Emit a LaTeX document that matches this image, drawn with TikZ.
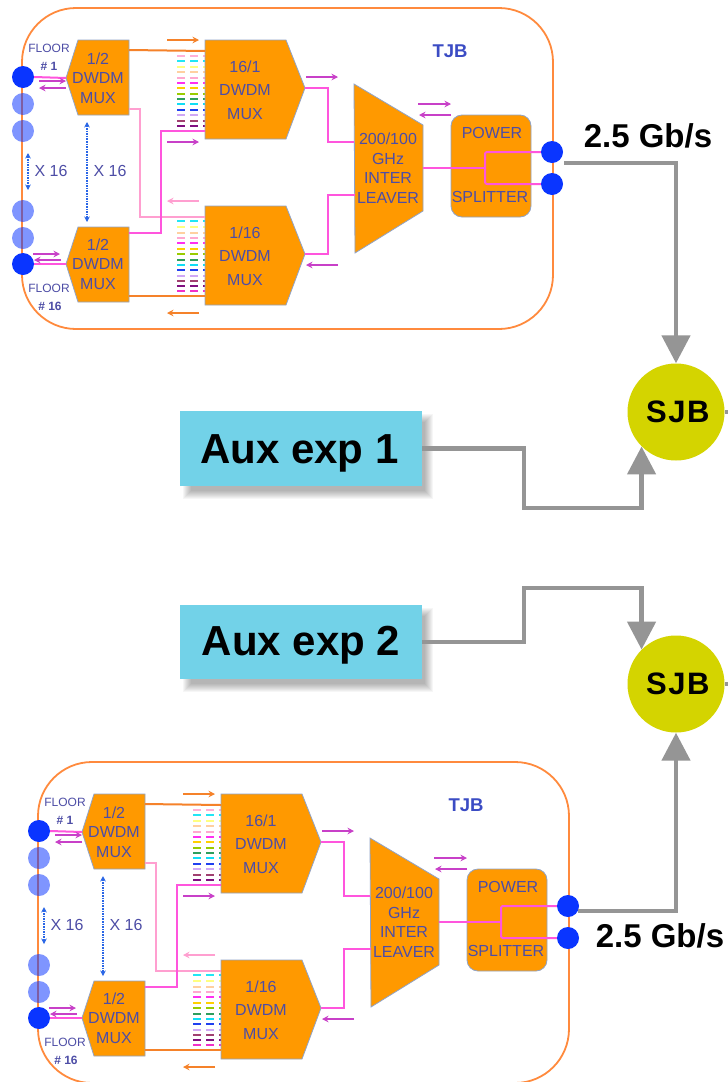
\documentclass[tikz,border=0pt]{standalone}
\usepackage{fontspec}
\setmainfont{Liberation Sans}
\usetikzlibrary{arrows.meta,calc}
\definecolor{muxor}{HTML}{FF9900}
\definecolor{muxedge}{HTML}{8FA3C8}
\definecolor{boxor}{HTML}{FF8A3D}
\definecolor{lbl}{HTML}{4D4DA6}
\definecolor{tjbblue}{HTML}{3B4CC4}
\definecolor{port}{HTML}{0A35FF}
\definecolor{wmag}{HTML}{FF55DD}
\definecolor{amag}{HTML}{C840C8}
\definecolor{wpink}{HTML}{FF9FD0}
\definecolor{wor}{HTML}{F5822A}
\definecolor{gline}{HTML}{959595}
\definecolor{sjbc}{HTML}{D4D400}
\definecolor{auxc}{HTML}{72D2E8}
\definecolor{xarrow}{HTML}{2A66E6}
\tikzset{
  x=1pt,y=-1pt,
  block/.style={fill=muxor,draw=muxedge,line width=.8pt,line join=miter},
  lbltext/.style={text=lbl,inner sep=0pt,align=center,font=\fontsize{16}{19.5}\selectfont},
  lbltall/.style={text=lbl,inner sep=0pt,align=center,font=\fontsize{16}{23.5}\selectfont},
  floortext/.style={text=lbl,inner sep=0pt,font=\fontsize{12}{14}\selectfont},
  bluedot/.style={circle,fill=port,minimum size=22pt,inner sep=0pt},
  fadedot/.style={circle,fill=port,fill opacity=.52,minimum size=22pt,inner sep=0pt},
  wire/.style={line width=2pt},
  tick/.style={line width=2pt,-{Stealth[length=6.5pt,width=6.5pt]}},
  xdash/.style={xarrow,line width=1.6pt,densely dotted,{Stealth[length=5.5pt,width=5.5pt]}-{Stealth[length=5.5pt,width=5.5pt]}},
  gwire/.style={gline,line width=4.7pt,line join=miter},
  garrow/.style={gwire,-{Triangle[length=28pt,width=28pt]}},
  auxbox/.style={fill=auxc,minimum width=242pt,inner sep=0pt},
  auxtext/.style={inner sep=0pt,anchor=base,text=black,font=\bfseries\fontsize{42}{42}\selectfont},
  sjbnode/.style={circle,fill=sjbc,minimum size=97pt,inner sep=0pt,text=black,font=\addfontfeature{LetterSpace=5}\bfseries\fontsize{31}{31}\selectfont},
  ratetext/.style={text=black,inner sep=0pt,anchor=base,font=\bfseries\fontsize{33}{33}\selectfont},
}
\newcommand{\dashrow}[2]{\foreach \cx in {181,194}{\fill[#1] (\cx-4,#2-1.2) rectangle (\cx+4,#2+1.2);}\fill[#1] (203,#2-1.2) rectangle (207,#2+1.2);}
\newcommand{\tjbmodule}{%
  % dash columns
  \foreach \yy/\cc in {56/FFB0D8,61/22E6F5,67/FFFF80,72/FFD0A0,78/FFA8D0,83/FF30F0,88/FFD000,94/99CC00,99/2E9E5E,104/10DDF5,110/2040F0,115/D0A8F5,121/A04070,126/801080}{\definecolor{dc}{HTML}{\cc}\dashrow{dc}{\yy}}
  \foreach \yy/\cc in {221/22E6F5,227/FFFF80,233/FFD0A0,238/FFA8D0,243/FF30F0,249/FFD000,254/99CC00,260/2E9E5E,265/10DDF5,270/2040F0,276/D0A8F5,281/A04070,286/801080,291/F030C8}{\definecolor{dc}{HTML}{\cc}\dashrow{dc}{\yy}}
  % outer box
  \draw[boxor,line width=1.8pt,rounded corners=54pt] (22,8) rectangle (553,329);
  % blocks
  \draw[block] (66,78) -- (78,40) -- (129,40) -- (129,115) -- (78,115) -- cycle;
  \draw[block] (66,264) -- (78,227) -- (129,227) -- (129,302) -- (78,302) -- cycle;
  \draw[block] (205,40) -- (286,40) -- (305,88) -- (286,139) -- (205,139) -- cycle;
  \draw[block] (205,206) -- (286,206) -- (305,254) -- (286,305) -- (205,305) -- cycle;
  \draw[block] (354,84) -- (423,125) -- (423,211) -- (355,253) -- cycle;
  \node[block,rounded corners=11pt,minimum width=80pt,minimum height=102pt,inner sep=0pt] (split) at (491,166) {};
  \coordinate (m1w) at (66,78); \coordinate (m2w) at (66,264);
  \coordinate (m1top) at (129,50); \coordinate (m1low) at (129,109);
  \coordinate (m2top) at (129,233); \coordinate (m2low) at (129,296);
  \coordinate (a1top) at (205,51); \coordinate (a1low) at (205,131);
  \coordinate (a2top) at (205,217); \coordinate (a2low) at (205,296);
  \coordinate (a1out) at (305,88); \coordinate (a2out) at (305,254);
  \coordinate (i1) at (354,142); \coordinate (i2) at (355,195); \coordinate (iout) at (423,168);
  \coordinate (sb) at (485,168);
  % ports
  \node[fadedot] (d2) at (23,104) {};
  \node[fadedot] (d3) at (23,131) {};
  \node[fadedot] (d4) at (23,211) {};
  \node[fadedot] (d5) at (23,238) {};
  \node[bluedot] (f1) at (23,77) {};
  \node[bluedot] (f16) at (23,264) {};
  \node[bluedot] (po1) at (552,152) {};
  \node[bluedot] (po2) at (552,184) {};
  % wires
  \draw[wire,wmag] (f1.east) -- (m1w);
  \draw[wire,wmag] (f16.east) -- (m2w);
  \draw[wire,wor] (m1top) -- (a1top);
  \draw[wire,wor] (m2low) -- (a2low);
  \draw[wire,wpink] (m1low) -| (140,217) -- (a2top);
  \draw[wire,wmag] (m2top) -| (161,131) -- (a1low);
  \draw[wire,wmag] (a1out) -| (328,142) -- (i1);
  \draw[wire,wmag] (a2out) -| (328,195) -- (i2);
  \draw[wire,wmag] (iout) -- (sb);
  \draw[wire,wmag,rounded corners=2pt] (sb) |- (po1.west);
  \draw[wire,wmag,rounded corners=2pt] (sb) |- (po2.west);
  % small arrows
  \draw[tick,wor] (167,40) -- (199,40);
  \draw[tick,amag,line width=2.6pt] (167,142) -- (199,142);
  \draw[tick,wpink] (199,201) -- (167,201);
  \draw[tick,wor] (199,313) -- (167,313);
  \draw[tick,amag] (306,77) -- (338,77);
  \draw[tick,amag] (338,265) -- (306,265);
  \draw[tick,amag] (418,104) -- (451,104);
  \draw[tick,amag] (451,115) -- (419,115);
  \draw[tick,amag] (39,81) -- (66,81);
  \draw[tick,amag] (66,88) -- (39,88);
  \draw[tick,amag] (33,254) -- (60,254);
  \draw[tick,amag] (61,260) -- (34,260);
  \draw[xdash] (87,122) -- (87,222);
  \draw[xdash] (28,153) -- (28,190);
  % labels
  \node[lbltext] (l1) at (98,78) {1/2\\DWDM\\MUX};
  \node[lbltext] (l2) at (98,264) {1/2\\DWDM\\MUX};
  \node[lbltall] (l3) at (245,90) {16/1\\DWDM\\MUX};
  \node[lbltall] (l4) at (245,256) {1/16\\DWDM\\MUX};
  \node[lbltext] (l5) at (388,168) {200/100\\GHz\\INTER\\LEAVER};
  \node[lbltext] (l6) at (492,133) {POWER};
  \node[lbltext] (l7) at (490,197) {SPLITTER};
  \node[floortext] (l8) at (49,48) {FLOOR};
  \node[floortext] (l9) at (49,66) {\textbf{\# 1}};
  \node[floortext] (l10) at (49,288) {FLOOR};
  \node[floortext] (l11) at (50,306) {\textbf{\# 16}};
  \node[lbltext] (l12) at (51,171) {X 16};
  \node[lbltext] (l13) at (110,171) {X 16};
  \node[text=tjbblue,inner sep=0pt,font=\bfseries\fontsize{18.5}{20}\selectfont] (l14) at (450,51) {TJB};
}
\newcommand{\softshadow}[4]{\foreach \g in {0,1,...,8}{\fill[black,fill opacity=.035] (#1+3+\g,#2+3+\g) rectangle (#3+11-\g,#4+13-\g);}}
\begin{document}
\begin{tikzpicture}
\useasboundingbox (0,0) rectangle (728,1082);
\fill[white] (0,0) rectangle (728,1082);
\begin{scope}[name prefix=a-]\tjbmodule\end{scope}
\begin{scope}[shift={(16,754)},name prefix=b-]\tjbmodule\end{scope}
\softshadow{180}{411}{422}{486}
\softshadow{180}{605}{422}{679}
\node[auxbox,minimum height=75pt] (aux1) at (301,448.5) {};
\node[auxbox,minimum height=74pt] (aux2) at (301,642) {};
\node[auxtext] (aux1t) at (299.5,463) {Aux exp 1};
\node[auxtext] (aux2t) at (301,655) {Aux exp 2};
\node[sjbnode] (sjb1) at (676,412) {\hspace{3.5pt}\raisebox{-2pt}{SJB}};
\node[sjbnode] (sjb2) at (676,684) {\hspace{3.5pt}\raisebox{-2pt}{SJB}};
\coordinate (e1) at (728,412);
\coordinate (e2) at (728,684);
\draw[gwire] (sjb1.east) -- (e1);
\draw[gwire] (sjb2.east) -- (e2);
\coordinate (s1) at (564,163);
\draw[garrow] (s1) -| (sjb1.north);
\draw[garrow] (b-po1.-27) -| (sjb2.south);
\draw[garrow] (aux1.east) -| (524,508) -| (sjb1.225);
\draw[garrow] (aux2.east) -| (524,588) -| (sjb2.135);
\node[ratetext] (r1) at (648,147) {2.5 Gb/s};
\node[ratetext] (r2) at (660,947) {2.5 Gb/s};
\end{tikzpicture}
\end{document}
